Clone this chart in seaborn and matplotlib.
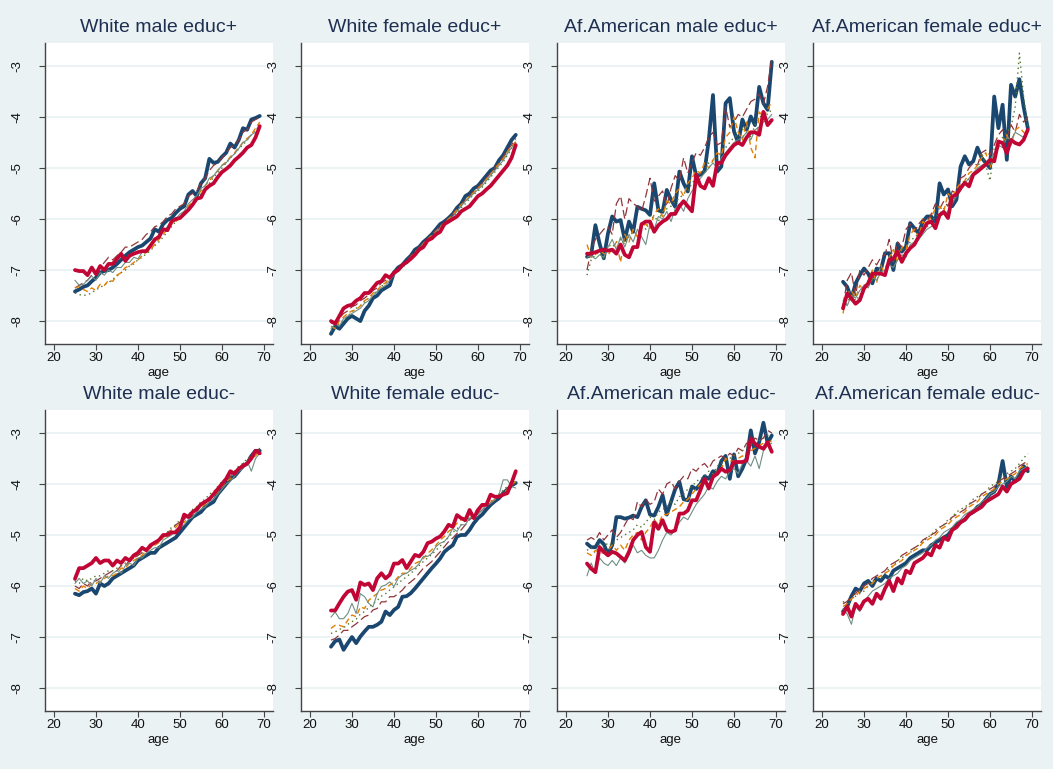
import matplotlib
matplotlib.use("Agg")
import matplotlib.pyplot as plt
import seaborn as sns
import pandas as pd

# ages on the x axis
ages = list(range(25, 70))

titles = [
    "White male educ+", "White female educ+",
    "Af.American male educ+", "Af.American female educ+",
    "White male educ-", "White female educ-",
    "Af.American male educ-", "Af.American female educ-",
]

# series order: navy, maroon, green, orange, teal, cranberry
series = ["s1", "s2", "s3", "s4", "s5", "s6"]

# ---- White male educ+
p1_navy = [-7.42, -7.38, -7.33, -7.30, -7.22, -7.15, -7.05, -7.02, -7.00,
           -6.95, -6.88, -6.80, -6.72, -6.65, -6.60, -6.55, -6.52, -6.45,
           -6.38, -6.20, -6.25, -6.10, -6.02, -5.98, -5.88, -5.80, -5.75,
           -5.52, -5.45, -5.55, -5.30, -5.20, -4.82, -4.90, -4.88, -4.78,
           -4.70, -4.52, -4.60, -4.45, -4.22, -4.25, -4.05, -4.02, -3.98]
p1_maroon = [-7.35, -7.30, -7.25, -7.20, -7.10, -7.05, -6.95, -6.85, -6.75,
             -6.80, -6.72, -6.65, -6.55, -6.55, -6.50, -6.45, -6.40, -6.30,
             -6.25, -6.15, -6.12, -6.05, -5.95, -5.90, -5.80, -5.75, -5.70,
             -5.55, -5.50, -5.45, -5.30, -5.20, -5.05, -4.95, -4.90, -4.80,
             -4.70, -4.60, -4.55, -4.45, -4.30, -4.25, -4.10, -4.05, -4.00]
p1_green = [-7.45, -7.48, -7.50, -7.48, -7.45, -7.38, -7.35, -7.28, -7.25,
            -7.18, -7.12, -7.05, -7.00, -6.92, -6.88, -6.80, -6.75, -6.68,
            -6.62, -6.52, -6.45, -6.35, -6.25, -6.15, -6.05, -5.98, -5.90,
            -5.80, -5.70, -5.60, -5.50, -5.40, -5.30, -5.18, -5.10, -5.00,
            -4.90, -4.80, -4.72, -4.62, -4.55, -4.45, -4.35, -4.25, -4.18]
p1_orange = [-7.35, -7.32, -7.38, -7.42, -7.35, -7.40, -7.28, -7.30, -7.20,
             -7.22, -7.10, -7.05, -6.95, -6.92, -6.85, -6.80, -6.72, -6.65,
             -6.60, -6.50, -6.40, -6.30, -6.20, -6.10, -6.05, -5.95, -5.85,
             -5.75, -5.65, -5.55, -5.45, -5.35, -5.25, -5.15, -5.05, -4.95,
             -4.88, -4.78, -4.70, -4.60, -4.50, -4.42, -4.35, -4.22, -4.10]
p1_teal = [-7.20, -7.30, -7.28, -7.20, -7.12, -7.20, -7.05, -7.10, -7.00,
           -7.05, -6.95, -6.95, -6.85, -6.85, -6.75, -6.78, -6.65, -6.60,
           -6.50, -6.45, -6.30, -6.25, -6.15, -6.05, -6.00, -5.90, -5.85,
           -5.70, -5.62, -5.55, -5.40, -5.35, -5.20, -5.15, -5.05, -4.95,
           -4.90, -4.80, -4.72, -4.62, -4.50, -4.45, -4.35, -4.30, -4.25]
p1_red = [-7.00, -7.02, -7.02, -7.10, -6.95, -7.08, -6.92, -7.00, -6.88,
          -6.88, -6.78, -6.68, -6.82, -6.72, -6.68, -6.65, -6.63, -6.63,
          -6.52, -6.40, -6.35, -6.20, -6.22, -6.05, -6.00, -5.98, -5.90,
          -5.82, -5.72, -5.60, -5.58, -5.42, -5.35, -5.30, -5.18, -5.08,
          -5.02, -4.95, -4.85, -4.78, -4.70, -4.60, -4.55, -4.40, -4.18]

# ---- White female educ+
p2_navy = [-8.25, -8.10, -8.15, -8.05, -7.95, -7.90, -7.95, -8.00, -7.80,
           -7.70, -7.55, -7.50, -7.40, -7.35, -7.30, -7.05, -6.95, -6.90,
           -6.80, -6.72, -6.60, -6.55, -6.45, -6.38, -6.30, -6.20, -6.10,
           -6.05, -5.98, -5.90, -5.78, -5.70, -5.55, -5.50, -5.40, -5.35,
           -5.25, -5.15, -5.05, -5.00, -4.85, -4.75, -4.60, -4.45, -4.35]
p2_maroon = [-8.05, -8.00, -7.95, -7.85, -7.80, -7.72, -7.68, -7.60, -7.55,
             -7.48, -7.40, -7.35, -7.25, -7.20, -7.12, -7.05, -6.98, -6.90,
             -6.82, -6.72, -6.65, -6.55, -6.48, -6.40, -6.30, -6.22, -6.15,
             -6.08, -5.98, -5.90, -5.80, -5.72, -5.62, -5.55, -5.45, -5.38,
             -5.30, -5.20, -5.10, -5.00, -4.90, -4.78, -4.65, -4.55, -4.42]
p2_green = [-8.20, -8.12, -8.05, -7.98, -7.90, -7.82, -7.75, -7.70, -7.62,
            -7.55, -7.48, -7.40, -7.32, -7.25, -7.18, -7.10, -7.02, -6.95,
            -6.88, -6.78, -6.70, -6.60, -6.52, -6.42, -6.35, -6.28, -6.20,
            -6.12, -6.05, -5.95, -5.88, -5.78, -5.70, -5.60, -5.52, -5.45,
            -5.38, -5.28, -5.18, -5.08, -4.98, -4.88, -4.75, -4.62, -4.45]
p2_orange = [-8.10, -8.15, -8.00, -7.92, -7.85, -7.80, -7.78, -7.70, -7.60,
             -7.55, -7.45, -7.40, -7.30, -7.25, -7.15, -7.08, -7.00, -6.92,
             -6.85, -6.75, -6.65, -6.58, -6.48, -6.40, -6.32, -6.25, -6.15,
             -6.08, -6.00, -5.92, -5.82, -5.72, -5.65, -5.55, -5.48, -5.40,
             -5.32, -5.22, -5.12, -5.02, -4.92, -4.82, -4.68, -4.58, -4.48]
p2_teal = [-8.15, -8.05, -8.10, -7.95, -7.90, -7.85, -7.80, -7.75, -7.65,
           -7.60, -7.50, -7.42, -7.35, -7.30, -7.20, -7.10, -7.02, -6.95,
           -6.85, -6.75, -6.68, -6.58, -6.50, -6.40, -6.35, -6.25, -6.18,
           -6.10, -6.02, -5.95, -5.85, -5.75, -5.65, -5.58, -5.50, -5.42,
           -5.35, -5.25, -5.15, -5.05, -4.95, -4.85, -4.72, -4.60, -4.50]
p2_red = [-8.00, -8.05, -7.90, -7.75, -7.70, -7.68, -7.60, -7.55, -7.45,
          -7.45, -7.35, -7.25, -7.22, -7.10, -7.15, -7.05, -7.00, -6.90,
          -6.85, -6.78, -6.70, -6.60, -6.55, -6.42, -6.38, -6.30, -6.25,
          -6.10, -6.05, -6.00, -5.95, -5.85, -5.80, -5.75, -5.65, -5.55,
          -5.50, -5.42, -5.35, -5.25, -5.15, -5.05, -4.95, -4.80, -4.55]

# ---- Af.American male educ+
p3_navy = [-6.74, -6.70, -6.12, -6.48, -6.77, -6.28, -5.95, -6.05, -6.02,
           -6.41, -6.05, -6.25, -5.76, -5.80, -5.83, -5.92, -5.30, -5.83,
           -5.86, -5.43, -5.62, -5.76, -5.07, -5.30, -5.46, -4.77, -5.16,
           -5.13, -5.06, -4.45, -3.57, -5.07, -4.97, -3.73, -3.63, -4.28,
           -4.51, -4.05, -4.25, -3.99, -4.16, -3.41, -3.73, -3.86, -2.92]
p3_maroon = [-7.00, -6.60, -6.40, -6.30, -6.20, -6.15, -6.30, -5.70, -5.55,
             -6.00, -5.60, -5.70, -5.75, -5.85, -5.55, -5.20, -5.65, -5.55,
             -5.45, -5.75, -5.40, -5.15, -5.25, -4.80, -5.10, -4.90, -4.70,
             -4.75, -4.60, -4.40, -4.30, -4.55, -4.50, -3.80, -4.20, -4.10,
             -3.95, -4.00, -3.85, -3.70, -3.65, -3.55, -3.75, -3.40, -2.85]
p3_green = [-7.10, -6.80, -6.70, -6.65, -6.80, -6.50, -6.55, -6.45, -6.40,
            -6.50, -6.35, -6.25, -6.30, -6.10, -6.20, -6.00, -5.95, -6.05,
            -5.85, -5.80, -5.75, -5.65, -5.60, -5.50, -5.45, -5.30, -5.20,
            -5.10, -5.05, -4.90, -4.85, -4.80, -4.70, -4.60, -4.50, -4.40,
            -4.35, -4.25, -4.20, -4.40, -4.15, -4.05, -3.90, -3.95, -3.85]
p3_orange = [-6.50, -6.75, -6.70, -6.60, -6.68, -6.70, -6.60, -6.45, -6.85,
             -6.30, -6.45, -6.20, -6.35, -6.15, -6.10, -6.20, -5.90, -5.80,
             -5.95, -5.65, -5.70, -5.50, -5.40, -5.55, -5.30, -5.20, -5.05,
             -5.10, -4.90, -5.00, -4.85, -4.70, -4.75, -4.40, -4.30, -4.00,
             -4.30, -4.45, -4.10, -4.60, -4.80, -3.90, -4.00, -3.85, -3.70]
p3_teal = [-6.75, -6.72, -6.78, -6.70, -6.75, -6.55, -6.40, -6.60, -6.35,
           -6.55, -6.30, -6.45, -6.20, -6.35, -6.50, -6.10, -6.20, -5.95,
           -6.00, -5.85, -6.05, -5.80, -5.70, -5.85, -5.60, -5.45, -5.35,
           -5.20, -5.10, -5.00, -4.90, -5.00, -4.80, -4.70, -4.60, -4.50,
           -4.45, -4.40, -4.30, -4.45, -4.25, -4.20, -4.10, -4.05, -3.95]
p3_red = [-6.68, -6.68, -6.65, -6.62, -6.60, -6.62, -6.60, -6.68, -6.50,
          -6.70, -6.75, -6.55, -6.55, -6.10, -6.05, -6.05, -6.25, -6.12,
          -6.05, -6.00, -5.90, -5.90, -5.75, -5.65, -5.75, -5.85, -5.13,
          -5.35, -5.40, -5.20, -5.35, -4.90, -4.90, -4.75, -4.65, -4.55,
          -4.50, -4.55, -4.40, -4.30, -4.30, -4.35, -3.90, -4.16, -4.06]

# ---- Af.American female educ+
p4_navy = [-7.23, -7.33, -7.56, -7.26, -7.10, -6.97, -7.07, -7.26, -6.97,
           -7.00, -6.67, -6.67, -7.00, -6.48, -6.64, -6.54, -6.08, -6.18,
           -6.28, -6.05, -5.95, -5.95, -6.05, -5.30, -5.52, -5.42, -5.75,
           -5.62, -4.97, -4.77, -4.93, -4.87, -4.60, -4.80, -4.90, -5.00,
           -3.60, -4.22, -3.76, -4.84, -3.37, -3.60, -3.26, -3.80, -4.22]
p4_maroon = [-7.70, -7.20, -7.05, -7.50, -7.00, -7.10, -6.95, -6.80, -6.90,
             -6.75, -6.70, -6.40, -6.85, -6.45, -6.55, -6.20, -6.10, -6.25,
             -6.10, -6.00, -6.05, -5.90, -5.70, -5.80, -5.65, -5.75, -5.45,
             -5.50, -5.20, -5.15, -5.00, -4.90, -4.95, -4.70, -4.65, -4.75,
             -4.55, -4.35, -4.25, -4.40, -4.15, -4.30, -3.95, -4.10, -4.00]
p4_green = [-7.75, -7.65, -7.45, -7.60, -7.50, -7.30, -7.25, -7.20, -7.10,
            -7.00, -6.95, -6.85, -6.75, -6.70, -6.60, -6.55, -6.45, -6.35,
            -6.30, -6.20, -6.15, -6.05, -5.95, -5.90, -5.80, -5.70, -5.65,
            -5.55, -5.40, -5.35, -5.20, -5.10, -5.05, -4.70, -4.95, -5.25,
            -4.60, -4.50, -4.40, -4.30, -4.20, -3.80, -2.75, -3.60, -4.20]
p4_orange = [-7.85, -7.45, -7.40, -7.55, -7.30, -7.40, -7.20, -7.00, -7.25,
             -6.90, -7.10, -6.75, -6.60, -6.85, -6.55, -6.60, -6.30, -6.20,
             -6.35, -6.05, -6.10, -5.95, -5.80, -5.75, -5.85, -5.50, -5.60,
             -5.40, -5.30, -5.25, -5.10, -5.05, -4.95, -4.80, -4.70, -5.00,
             -4.75, -4.60, -4.50, -4.35, -4.55, -4.25, -4.20, -4.30, -4.35]
p4_teal = [-7.60, -7.70, -7.50, -7.55, -7.40, -7.30, -7.35, -7.15, -7.20,
           -7.05, -7.00, -6.90, -6.95, -6.80, -6.70, -6.75, -6.50, -6.45,
           -6.40, -6.30, -6.20, -6.15, -6.10, -5.95, -5.90, -5.85, -5.70,
           -5.55, -5.45, -5.30, -5.20, -5.10, -5.00, -4.95, -4.90, -4.85,
           -4.70, -4.55, -4.60, -4.40, -4.45, -4.30, -4.35, -4.40, -4.25]
p4_red = [-7.75, -7.46, -7.56, -7.66, -7.59, -7.36, -7.26, -7.07, -7.07,
          -7.07, -7.10, -6.80, -6.77, -6.64, -6.84, -6.67, -6.57, -6.50,
          -6.35, -6.22, -6.08, -6.05, -6.18, -5.92, -5.86, -5.98, -5.56,
          -5.52, -5.39, -5.29, -5.36, -5.13, -5.07, -5.00, -4.93, -4.84,
          -4.87, -4.48, -4.51, -4.71, -4.45, -4.51, -4.54, -4.45, -4.25]

# ---- White male educ-
p5_navy = [-6.15, -6.18, -6.12, -6.10, -6.05, -6.15, -5.95, -6.00, -5.95,
           -5.85, -5.80, -5.75, -5.70, -5.65, -5.60, -5.50, -5.45, -5.40,
           -5.35, -5.35, -5.25, -5.20, -5.15, -5.10, -5.05, -4.95, -4.85,
           -4.75, -4.65, -4.60, -4.55, -4.45, -4.40, -4.35, -4.20, -4.10,
           -4.00, -3.90, -3.85, -3.75, -3.65, -3.60, -3.45, -3.35, -3.35]
p5_maroon = [-6.00, -6.05, -5.95, -6.00, -5.90, -5.90, -5.85, -5.80, -5.75,
             -5.70, -5.70, -5.60, -5.60, -5.50, -5.45, -5.40, -5.35, -5.30,
             -5.25, -5.15, -5.10, -5.05, -4.95, -4.90, -4.80, -4.75, -4.70,
             -4.60, -4.55, -4.45, -4.40, -4.35, -4.25, -4.20, -4.10, -4.00,
             -3.90, -3.85, -3.75, -3.70, -3.60, -3.55, -3.45, -3.40, -3.30]
p5_green = [-5.90, -5.95, -5.85, -5.90, -5.85, -5.80, -5.80, -5.75, -5.70,
            -5.70, -5.65, -5.60, -5.55, -5.50, -5.45, -5.40, -5.35, -5.30,
            -5.20, -5.15, -5.10, -5.00, -4.95, -4.85, -4.80, -4.70, -4.65,
            -4.60, -4.50, -4.45, -4.35, -4.30, -4.20, -4.15, -4.05, -3.95,
            -3.90, -3.80, -3.75, -3.65, -3.60, -3.50, -3.45, -3.35, -3.30]
p5_orange = [-6.05, -6.10, -6.00, -6.05, -5.95, -5.95, -5.90, -5.85, -5.80,
             -5.80, -5.75, -5.65, -5.65, -5.55, -5.50, -5.45, -5.40, -5.30,
             -5.25, -5.20, -5.15, -5.05, -5.00, -4.90, -4.85, -4.75, -4.75,
             -4.65, -4.60, -4.50, -4.45, -4.40, -4.30, -4.25, -4.15, -4.05,
             -3.95, -3.90, -3.80, -3.70, -3.65, -3.60, -3.50, -3.45, -3.35]
p5_teal = [-5.95, -5.85, -5.95, -5.90, -6.00, -5.85, -5.95, -5.80, -5.85,
           -5.75, -5.70, -5.75, -5.60, -5.55, -5.60, -5.45, -5.45, -5.35,
           -5.30, -5.25, -5.25, -5.10, -5.05, -5.00, -4.90, -4.85, -4.80,
           -4.70, -4.65, -4.55, -4.50, -4.45, -4.35, -4.30, -4.20, -4.10,
           -4.00, -3.95, -3.85, -3.75, -3.70, -3.55, -3.75, -3.50, -3.40]
p5_red = [-5.86, -5.65, -5.65, -5.60, -5.55, -5.45, -5.55, -5.50, -5.50,
          -5.60, -5.50, -5.55, -5.45, -5.50, -5.40, -5.35, -5.25, -5.30,
          -5.20, -5.15, -5.10, -5.00, -5.00, -4.95, -4.95, -4.85, -4.60,
          -4.65, -4.55, -4.50, -4.40, -4.35, -4.30, -4.20, -4.10, -4.00,
          -3.90, -3.75, -3.80, -3.70, -3.65, -3.60, -3.50, -3.35, -3.40]

# ---- White female educ-
p6_navy = [-7.19, -7.08, -7.05, -7.25, -7.12, -7.00, -7.12, -6.99, -6.89,
           -6.80, -6.80, -6.76, -6.70, -6.50, -6.57, -6.47, -6.41, -6.21,
           -6.20, -6.14, -6.05, -5.95, -5.85, -5.75, -5.65, -5.56, -5.46,
           -5.33, -5.26, -5.20, -5.03, -5.00, -5.00, -4.90, -4.77, -4.67,
           -4.60, -4.50, -4.41, -4.34, -4.28, -4.18, -4.11, -4.03, -3.98]
p6_maroon = [-7.06, -7.03, -6.96, -6.87, -6.87, -6.80, -6.74, -6.67, -6.60,
             -6.57, -6.47, -6.44, -6.31, -6.31, -6.21, -6.21, -6.15, -6.08,
             -5.98, -5.92, -5.85, -5.75, -5.65, -5.59, -5.52, -5.42, -5.33,
             -5.23, -5.13, -5.06, -4.97, -4.90, -4.80, -4.70, -4.64, -4.57,
             -4.51, -4.44, -4.38, -4.31, -4.25, -4.18, -4.08, -4.02, -3.95]
p6_green = [-6.93, -6.90, -6.85, -6.82, -6.75, -6.70, -6.65, -6.55, -6.50,
            -6.42, -6.35, -6.28, -6.20, -6.15, -6.08, -6.02, -5.95, -5.88,
            -5.82, -5.75, -5.68, -5.60, -5.52, -5.45, -5.38, -5.30, -5.22,
            -5.12, -5.05, -4.95, -4.88, -4.80, -4.72, -4.65, -4.58, -4.52,
            -4.46, -4.40, -4.35, -4.28, -4.20, -4.12, -4.05, -3.98, -3.92]
p6_orange = [-6.83, -6.77, -6.77, -6.80, -6.67, -6.57, -6.60, -6.41, -6.44,
             -6.28, -6.21, -6.15, -6.08, -6.05, -5.98, -5.92, -5.82, -5.75,
             -5.75, -5.65, -5.56, -5.52, -5.46, -5.36, -5.29, -5.20, -5.10,
             -5.03, -4.93, -4.87, -4.77, -4.70, -4.64, -4.61, -4.54, -4.51,
             -4.44, -4.38, -4.34, -4.31, -4.25, -4.18, -4.11, -4.02, -3.95]
p6_teal = [-6.61, -6.51, -6.64, -6.64, -6.54, -6.34, -6.54, -6.15, -6.21,
           -6.34, -6.41, -6.15, -6.01, -5.98, -5.92, -6.01, -5.85, -5.78,
           -5.75, -5.69, -5.65, -5.56, -5.42, -5.42, -5.36, -5.23, -5.16,
           -5.13, -5.03, -4.87, -4.93, -4.80, -4.80, -4.67, -4.60, -4.60,
           -4.51, -4.41, -4.38, -4.31, -4.21, -3.92, -3.92, -4.05, -4.08]
p6_red = [-6.48, -6.48, -6.34, -6.21, -6.11, -6.08, -6.27, -5.93, -5.98,
          -5.95, -6.08, -5.85, -5.75, -5.85, -5.78, -5.56, -5.56, -5.49,
          -5.65, -5.52, -5.39, -5.42, -5.33, -5.16, -5.13, -5.07, -5.03,
          -4.93, -4.80, -4.84, -4.61, -4.67, -4.71, -4.51, -4.67, -4.51,
          -4.41, -4.41, -4.21, -4.25, -4.25, -4.21, -4.18, -3.98, -3.75]

# ---- Af.American male educ-
p7_navy = [-5.17, -5.24, -5.24, -5.10, -5.18, -5.38, -5.20, -4.65, -4.65,
           -4.68, -4.66, -4.62, -4.65, -4.45, -4.32, -4.60, -4.62, -4.45,
           -4.22, -4.60, -4.35, -4.10, -3.96, -4.30, -4.32, -4.05, -4.10,
           -4.00, -3.85, -3.90, -3.75, -3.80, -3.55, -3.45, -3.90, -3.42,
           -3.85, -3.70, -3.50, -2.95, -3.40, -3.18, -2.80, -3.20, -3.05]
p7_maroon = [-5.10, -5.05, -5.10, -4.95, -5.10, -5.00, -4.90, -5.05, -4.95,
             -4.80, -4.65, -4.70, -4.35, -4.45, -4.30, -4.40, -4.35, -4.10,
             -4.20, -4.00, -3.95, -4.10, -3.95, -3.85, -3.90, -3.70, -3.75,
             -3.65, -3.60, -3.70, -3.55, -3.50, -3.45, -3.50, -3.40, -3.45,
             -3.30, -3.35, -3.20, -3.25, -3.10, -3.15, -3.10, -2.95, -3.00]
p7_green = [-5.30, -5.25, -5.35, -5.20, -5.25, -5.15, -5.20, -5.10, -5.05,
            -5.00, -4.95, -4.90, -4.80, -4.85, -4.75, -4.65, -4.70, -4.55,
            -4.50, -4.45, -4.35, -4.40, -4.25, -4.20, -4.10, -4.05, -3.95,
            -3.90, -3.85, -3.75, -3.80, -3.65, -3.60, -3.55, -3.50, -3.45,
            -3.40, -3.35, -3.30, -3.25, -3.20, -3.15, -3.10, -3.05, -3.00]
p7_orange = [-5.35, -5.40, -5.30, -5.35, -5.35, -5.30, -5.20, -5.30, -5.20,
             -5.30, -5.10, -5.00, -4.95, -5.10, -4.95, -4.85, -4.70, -4.80,
             -4.60, -4.60, -4.55, -4.50, -4.45, -4.35, -4.30, -4.20, -4.10,
             -4.00, -3.95, -4.05, -3.90, -3.75, -3.70, -3.50, -3.55, -3.55,
             -3.50, -3.45, -3.50, -3.35, -3.30, -3.25, -3.20, -3.20, -3.15]
p7_teal = [-5.80, -5.55, -5.75, -5.45, -5.55, -5.60, -5.50, -5.60, -5.45,
           -5.55, -5.40, -5.20, -5.35, -5.30, -5.40, -5.45, -5.45, -5.30,
           -5.10, -4.95, -5.00, -4.90, -4.75, -4.65, -4.70, -4.55, -4.40,
           -4.30, -4.20, -4.05, -4.10, -3.95, -3.85, -3.90, -3.75, -3.70,
           -3.80, -3.60, -3.55, -3.65, -3.45, -3.70, -3.35, -3.25, -3.20]
p7_red = [-5.56, -5.66, -5.73, -5.24, -5.33, -5.40, -5.33, -5.36, -5.43,
          -5.50, -5.33, -5.10, -5.00, -4.94, -5.24, -5.33, -4.75, -4.88,
          -4.71, -4.91, -4.94, -4.91, -4.58, -4.58, -4.52, -4.32, -4.32,
          -4.12, -3.90, -4.09, -3.86, -3.80, -3.70, -3.76, -3.73, -3.57,
          -3.57, -3.57, -3.54, -3.11, -3.21, -3.27, -3.31, -3.18, -3.37]

# ---- Af.American female educ-
p8_navy = [-6.50, -6.40, -6.20, -6.05, -6.10, -5.95, -5.90, -6.00, -5.85,
           -5.90, -5.80, -5.85, -5.70, -5.65, -5.60, -5.55, -5.45, -5.40,
           -5.35, -5.30, -5.30, -5.20, -5.15, -5.10, -5.05, -5.00, -4.90,
           -4.80, -4.75, -4.70, -4.60, -4.55, -4.45, -4.40, -4.30, -4.20,
           -4.15, -4.00, -3.55, -4.05, -3.85, -3.95, -3.80, -3.65, -3.75]
p8_maroon = [-6.35, -6.30, -6.20, -6.15, -6.05, -6.00, -5.95, -5.85, -5.80,
             -5.75, -5.70, -5.60, -5.55, -5.50, -5.40, -5.35, -5.30, -5.25,
             -5.20, -5.10, -5.05, -5.00, -4.95, -4.85, -4.80, -4.75, -4.65,
             -4.60, -4.55, -4.50, -4.40, -4.35, -4.30, -4.20, -4.15, -4.10,
             -4.05, -3.95, -3.90, -3.85, -3.80, -3.75, -3.65, -3.60, -3.55]
p8_green = [-6.30, -6.40, -6.25, -6.20, -6.15, -6.10, -6.00, -5.90, -5.85,
            -5.85, -5.75, -5.65, -5.60, -5.50, -5.45, -5.40, -5.35, -5.25,
            -5.20, -5.15, -5.05, -5.00, -4.90, -4.85, -4.80, -4.70, -4.65,
            -4.55, -4.50, -4.45, -4.40, -4.30, -4.25, -4.20, -4.15, -4.05,
            -4.00, -3.95, -3.85, -3.80, -3.75, -3.70, -3.60, -3.50, -3.40]
p8_orange = [-6.40, -6.35, -6.25, -6.20, -6.10, -6.05, -6.00, -5.95, -5.85,
             -5.80, -5.75, -5.70, -5.60, -5.55, -5.50, -5.40, -5.35, -5.30,
             -5.25, -5.15, -5.10, -5.05, -5.00, -4.90, -4.85, -4.80, -4.70,
             -4.65, -4.60, -4.55, -4.45, -4.40, -4.35, -4.25, -4.20, -4.15,
             -4.10, -4.00, -3.95, -3.90, -3.85, -3.80, -3.70, -3.65, -3.60]
p8_teal = [-6.45, -6.55, -6.75, -6.40, -6.50, -6.30, -6.20, -6.10, -6.05,
           -6.00, -5.95, -5.85, -5.80, -5.75, -5.65, -5.60, -5.50, -5.45,
           -5.40, -5.35, -5.25, -5.20, -5.10, -5.05, -4.95, -4.90, -4.85,
           -4.75, -4.70, -4.60, -4.55, -4.50, -4.45, -4.35, -4.30, -4.20,
           -4.15, -4.05, -4.00, -3.95, -3.85, -3.90, -3.75, -3.70, -3.65]
p8_red = [-6.55, -6.40, -6.60, -6.35, -6.45, -6.30, -6.25, -6.35, -6.15,
          -6.25, -6.05, -5.90, -6.10, -5.85, -5.95, -5.70, -5.75, -5.55,
          -5.50, -5.45, -5.35, -5.40, -5.20, -5.25, -5.05, -5.10, -4.90,
          -4.85, -4.75, -4.70, -4.60, -4.55, -4.50, -4.45, -4.35, -4.30,
          -4.25, -4.20, -4.05, -4.15, -4.00, -3.95, -3.90, -3.75, -3.70]

panel_data = [
    [p1_navy, p1_maroon, p1_green, p1_orange, p1_teal, p1_red],
    [p2_navy, p2_maroon, p2_green, p2_orange, p2_teal, p2_red],
    [p3_navy, p3_maroon, p3_green, p3_orange, p3_teal, p3_red],
    [p4_navy, p4_maroon, p4_green, p4_orange, p4_teal, p4_red],
    [p5_navy, p5_maroon, p5_green, p5_orange, p5_teal, p5_red],
    [p6_navy, p6_maroon, p6_green, p6_orange, p6_teal, p6_red],
    [p7_navy, p7_maroon, p7_green, p7_orange, p7_teal, p7_red],
    [p8_navy, p8_maroon, p8_green, p8_orange, p8_teal, p8_red],
]

# Stata s2color look
bg = "#EAF2F3"
palette = {"s1": "#1A476F", "s2": "#90353B", "s3": "#55752F",
           "s4": "#E37E00", "s5": "#6E8E84", "s6": "#C10534"}
widths = {"s1": 2.7, "s2": 0.9, "s3": 1.0, "s4": 1.0, "s5": 0.8, "s6": 2.7}
dash_map = {"s1": "", "s2": (7, 3), "s3": (1, 2.5), "s4": (4, 2.5),
            "s5": "", "s6": ""}

sns.set_style("white")
plt.rcParams["font.family"] = ["Liberation Sans", "DejaVu Sans"]
plt.rcParams["axes.unicode_minus"] = False

fig, axes = plt.subplots(2, 4, figsize=(10.53, 7.69), dpi=100)
fig.patch.set_facecolor(bg)
fig.subplots_adjust(left=0.0427, right=0.9886, top=0.9441, bottom=0.0754,
                    wspace=0.123, hspace=0.219)

for ax, title, vals in zip(axes.flat, titles, panel_data):
    frames = []
    for name, v in zip(series, vals):
        frames.append(pd.DataFrame({"age": ages, "value": v, "series": name}))
    df = pd.concat(frames, ignore_index=True)

    sns.lineplot(data=df, x="age", y="value", hue="series", hue_order=series,
                 palette=palette, size="series", sizes=widths,
                 size_order=series, style="series", style_order=series,
                 dashes=dash_map, legend=False, ax=ax, estimator=None,
                 sort=False)

    ax.set_facecolor("white")
    ax.set_xlim(17.86, 72.14)
    ax.set_ylim(-8.45, -2.55)
    ax.set_xticks([20, 30, 40, 50, 60, 70])
    ax.set_yticks([-3, -4, -5, -6, -7, -8])
    ax.yaxis.grid(True, color=bg, linewidth=1.3)
    ax.set_axisbelow(True)
    for side in ["top", "right"]:
        ax.spines[side].set_visible(False)
    for side in ["left", "bottom"]:
        ax.spines[side].set_color("#444444")
        ax.spines[side].set_linewidth(1.0)
    ax.tick_params(axis="both", direction="out", length=4.3, width=0.8,
                   color="#444444", labelsize=9.5, labelcolor="#111111")
    ax.tick_params(axis="x", pad=1.5, bottom=True)
    ax.tick_params(axis="y", pad=11, labelrotation=90, left=True)
    for lab in ax.get_yticklabels():
        lab.set_va("center")
    ax.set_xlabel("age", fontsize=9.5, color="#111111", labelpad=2)
    ax.set_ylabel("")
    ax.set_title(title, fontsize=14, color="#1E2F52", pad=8)

fig.savefig("out.png", dpi=100, facecolor=bg)
